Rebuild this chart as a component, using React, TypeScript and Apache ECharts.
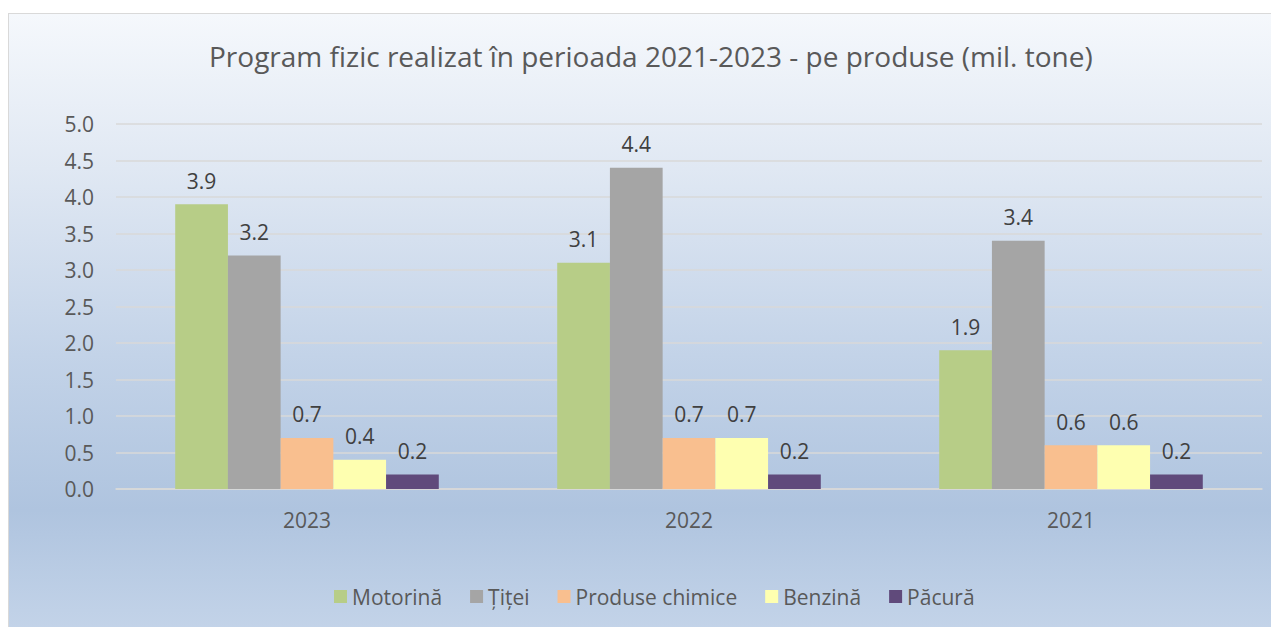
import React, { useEffect, useRef } from "react";
import * as echarts from "echarts";

const categories = ["2023", "2022", "2021"];
const seriesNames = ["Motorină", "Țiței", "Produse chimice", "Benzină", "Păcură"];
const motorina = [3.9, 3.1, 1.9];
const titei = [3.2, 4.4, 3.4];
const produseChimice = [0.7, 0.7, 0.6];
const benzina = [0.4, 0.7, 0.6];
const pacura = [0.2, 0.2, 0.2];
const colors = ["#b7cd87", "#a5a5a5", "#f9bf8f", "#feffb0", "#604a7b"];

const FONT = "'Open Sans', 'Noto Sans', sans-serif";

export default function App() {
  const ref = useRef<HTMLDivElement>(null);
  useEffect(() => {
    if (!ref.current) return;
    const chart = echarts.init(ref.current, null, { renderer: "svg" });
    const values = [motorina, titei, produseChimice, benzina, pacura];
    chart.setOption({
      animation: false,
      backgroundColor: {
        type: "linear",
        x: 0, y: 0, x2: 0, y2: 1,
        colorStops: [
          { offset: 0, color: "#f5f8fc" },
          { offset: 0.25, color: "#e0e8f3" },
          { offset: 0.55, color: "#c3d3e8" },
          { offset: 0.8, color: "#afc4df" },
          { offset: 1, color: "#c4d4e9" },
        ],
      },
      textStyle: { fontFamily: FONT },
      title: {
        text: "Program fizic realizat în perioada 2021-2023 - pe produse (mil. tone)",
        left: 195,
        top: 23,
        textStyle: { fontFamily: FONT, fontSize: 28, fontWeight: "normal", color: "#595959" },
      },
      legend: {
        data: seriesNames,
        top: 567,
        left: 320,
        icon: "rect",
        itemWidth: 13,
        itemHeight: 13,
        itemGap: 28,
        textStyle: { fontFamily: FONT, fontSize: 21, color: "#595959", padding: [0, 0, 0, 0] },
      },
      grid: { left: 107, right: 15, top: 110, bottom: 145, containLabel: false },
      xAxis: {
        type: "category",
        data: categories,
        axisTick: { show: false },
        axisLine: { lineStyle: { color: "#d9d9d9", width: 1.5 } },
        axisLabel: { fontFamily: FONT, fontSize: 21, color: "#595959", margin: 20 },
      },
      yAxis: {
        type: "value",
        min: 0,
        max: 5,
        interval: 0.5,
        axisLine: { show: false },
        axisTick: { show: false },
        splitLine: { lineStyle: { color: "#d9d9d9", width: 1.5 } },
        axisLabel: {
          fontFamily: FONT,
          fontSize: 21,
          color: "#595959",
          margin: 22,
          formatter: (v: number) => v.toFixed(1),
        },
      },
      series: seriesNames.map((name, i) => ({
        name,
        type: "bar",
        data: values[i],
        itemStyle: { color: colors[i] },
        barGap: "0%",
        barCategoryGap: "31%",
        label: {
          show: true,
          position: "top",
          distance: 13,
          fontFamily: FONT,
          fontSize: 21,
          color: "#404040",
          formatter: (p: any) => Number(p.value).toFixed(1),
        },
      })),
    });
    return () => chart.dispose();
  }, []);
  return (
    <div style={{ marginTop: 5, width: 1270, border: "1px solid #d9d9d9", boxSizing: "border-box" }}>
      <div ref={ref} style={{ width: 1268, height: 620 }} />
    </div>
  );
}
